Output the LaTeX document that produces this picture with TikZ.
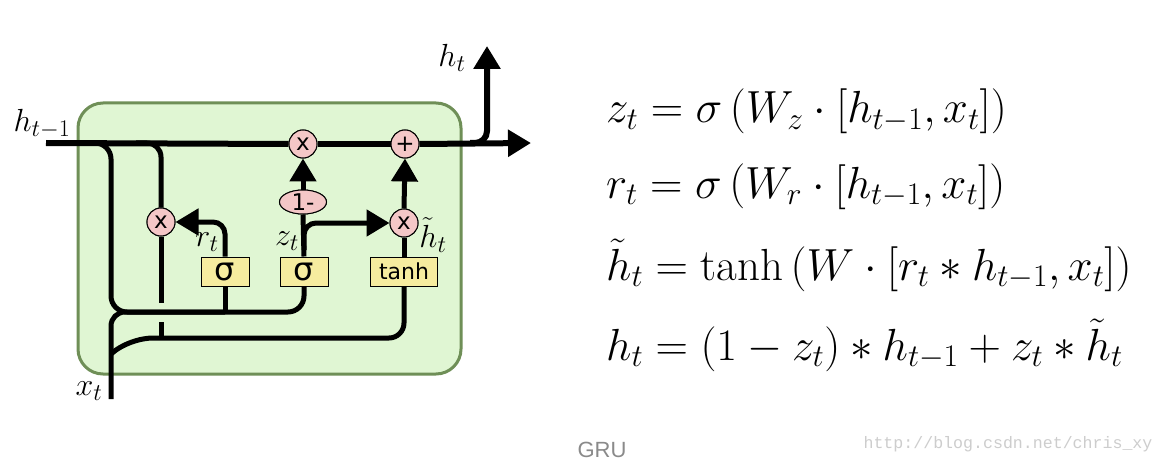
\documentclass[tikz,border=0pt]{standalone}
\usepackage{fix-cm}
\usepackage{fontspec}
\newfontfamily\dv{DejaVu Sans}
\newfontfamily\ar{Liberation Sans}
\newfontfamily\mo{Liberation Mono}
\DeclareMathSizes{32}{32}{24}{17}
\usetikzlibrary{arrows.meta,shapes.geometric}
\definecolor{cellfill}{HTML}{E0F6D3}
\definecolor{celledge}{HTML}{6F8F57}
\definecolor{opfill}{HTML}{F4C7C7}
\definecolor{gatefill}{HTML}{F6EC9F}
\definecolor{capgray}{HTML}{8A8A8A}
\definecolor{urlgray}{HTML}{CDCDCD}
\tikzset{
  wire/.style={line width=5pt},
  mainwire/.style={line width=6pt},
  tip/.style={-{Triangle[length=23pt,width=26pt]}},
  op/.style={circle, draw, line width=1pt, fill=opfill, minimum size=28pt, inner sep=0pt, font=\dv\fontsize{23}{23}\selectfont},
  gate/.style={rectangle, draw, line width=1pt, fill=gatefill, minimum width=48pt, minimum height=29pt, inner sep=0pt, font=\dv\fontsize{32}{32}\selectfont},
  lbl/.style={font=\fontsize{32}{32}\selectfont, inner sep=0pt},
  eqn/.style={anchor=base west, font=\fontsize{45}{50}\selectfont, inner sep=0pt},
}
\begin{document}
\begin{tikzpicture}[x=1pt,y=-1pt]
\fill[white] (0,0) rectangle (1165,468);
\useasboundingbox (0,0) rectangle (1165,468);
% cell
\node[draw=celledge, fill=cellfill, line width=3pt, rounded corners=25pt, minimum width=383pt, minimum height=271pt] (cell) at (269.5,238.5) {};
% operator and gate nodes
\node[op] (mulA) at (303,144) {x};
\node[op] (plus) at (405,144) {+};
\node[op, ellipse, minimum width=47pt, minimum height=24pt] (one) at (303,202) {1-};
\node[op] (mulB) at (404,223) {x};
\node[op] (mulR) at (161,222) {x};
\node[gate] (sr) at (225,271.5) {σ};
\node[gate] (sz) at (304,271.5) {σ};
\node[gate, minimum width=67pt, font=\dv\fontsize{22}{22}\selectfont] (th) at (404,271.5) {tanh};
% coordinates
\coordinate (hin) at (46,143);
\coordinate (hout) at (531,143);
\coordinate (hbr) at (470,143);
\coordinate (htop) at (487,46);
\coordinate (k1) at (88,143);
\coordinate (k2) at (136,143);
\coordinate (busA) at (111,312);
\coordinate (xin) at (111,399);
\coordinate (xsplit) at (111,354);
\coordinate (xlow) at (168,338);
\coordinate (gapA) at (161,303);
\coordinate (gapB) at (161,322);
\coordinate (gapC) at (161,339);
\coordinate (zbr) at (304,250);
% main cell-state line
\draw[mainwire] (hin) -- (mulA.west);
\draw[mainwire] (mulA.east) -- (plus.west);
\draw[mainwire, tip] (plus.east) -- (hout);
\draw[mainwire, tip, rounded corners=12pt] (hbr) -| (htop);
% h_{t-1} into gates
\draw[wire, rounded corners=16pt] (k1) -| (busA) -| (sz.south);
\draw[wire] (sr.south) -- (sr.south |- busA);
\draw[wire, rounded corners=14pt] (k2) -| (mulR.north);
% x_t
\draw[wire, rounded corners=14pt] (xin) |- (sr.south |- busA);
\draw[wire, rounded corners=15pt] (xsplit) .. controls (122,344) and (140,338) .. (xlow) -| (th.south);
% r_t * h_{t-1} down to tanh path
\draw[wire] (mulR.south) -- (gapA);
\draw[wire] (gapB) -- (gapC);
% reset gate
\draw[wire, tip, rounded corners=12pt] (sr.north) |- (mulR.east);
% update gate
\draw[wire] (sz.north) -- (one.south);
\draw[wire, tip, rounded corners=12pt] (zbr) |- (mulB.west);
\draw[wire, tip] (one.north) -- (mulA.south);
% candidate
\draw[wire] (th.north) -- (mulB.south);
\draw[wire, tip] (mulB.north) -- (plus.south);
% redraw nodes on top
\node[op] at (mulA) {x};
\node[op] at (plus) {+};
\node[op, ellipse, minimum width=47pt, minimum height=24pt] at (one) {1-};
\node[op] at (mulB) {x};
\node[op] at (mulR) {x};
% labels
\node[lbl] (lhin) at (42,124) {$h_{t-1}$};
\node[lbl] (lhout) at (452,58) {$h_t$};
\node[lbl] (lxt) at (89,391) {$x_t$};
\node[lbl] (lrt) at (207,242) {$r_t$};
\node[lbl] (lzt) at (287,241) {$z_t$};
\node[lbl] (lht) at (433,235) {$\tilde{h}_t$};
% equations
\node[eqn] (e1) at (606,123) {$z_t = \sigma\left(W_z\cdot[h_{t-1},x_t]\right)$};
\node[eqn] (e2) at (606,198) {$r_t = \sigma\left(W_r\cdot[h_{t-1},x_t]\right)$};
\node[eqn] (e3) at (606,280) {$\tilde{h}_t = \tanh\left(W\cdot[r_t*h_{t-1},x_t]\right)$};
\node[eqn] (e4) at (606,360) {$h_t = (1-z_t)*h_{t-1}+z_t*\tilde{h}_t$};
% caption
\node[font=\ar\fontsize{22}{22}\selectfont, text=capgray] (cap) at (602,450) {GRU};
\node[font=\mo\fontsize{16.6}{17}\selectfont, text=urlgray] (url) at (1008,444) {http://blog.csdn.net/chris\_xy};
\end{tikzpicture}
\end{document}
